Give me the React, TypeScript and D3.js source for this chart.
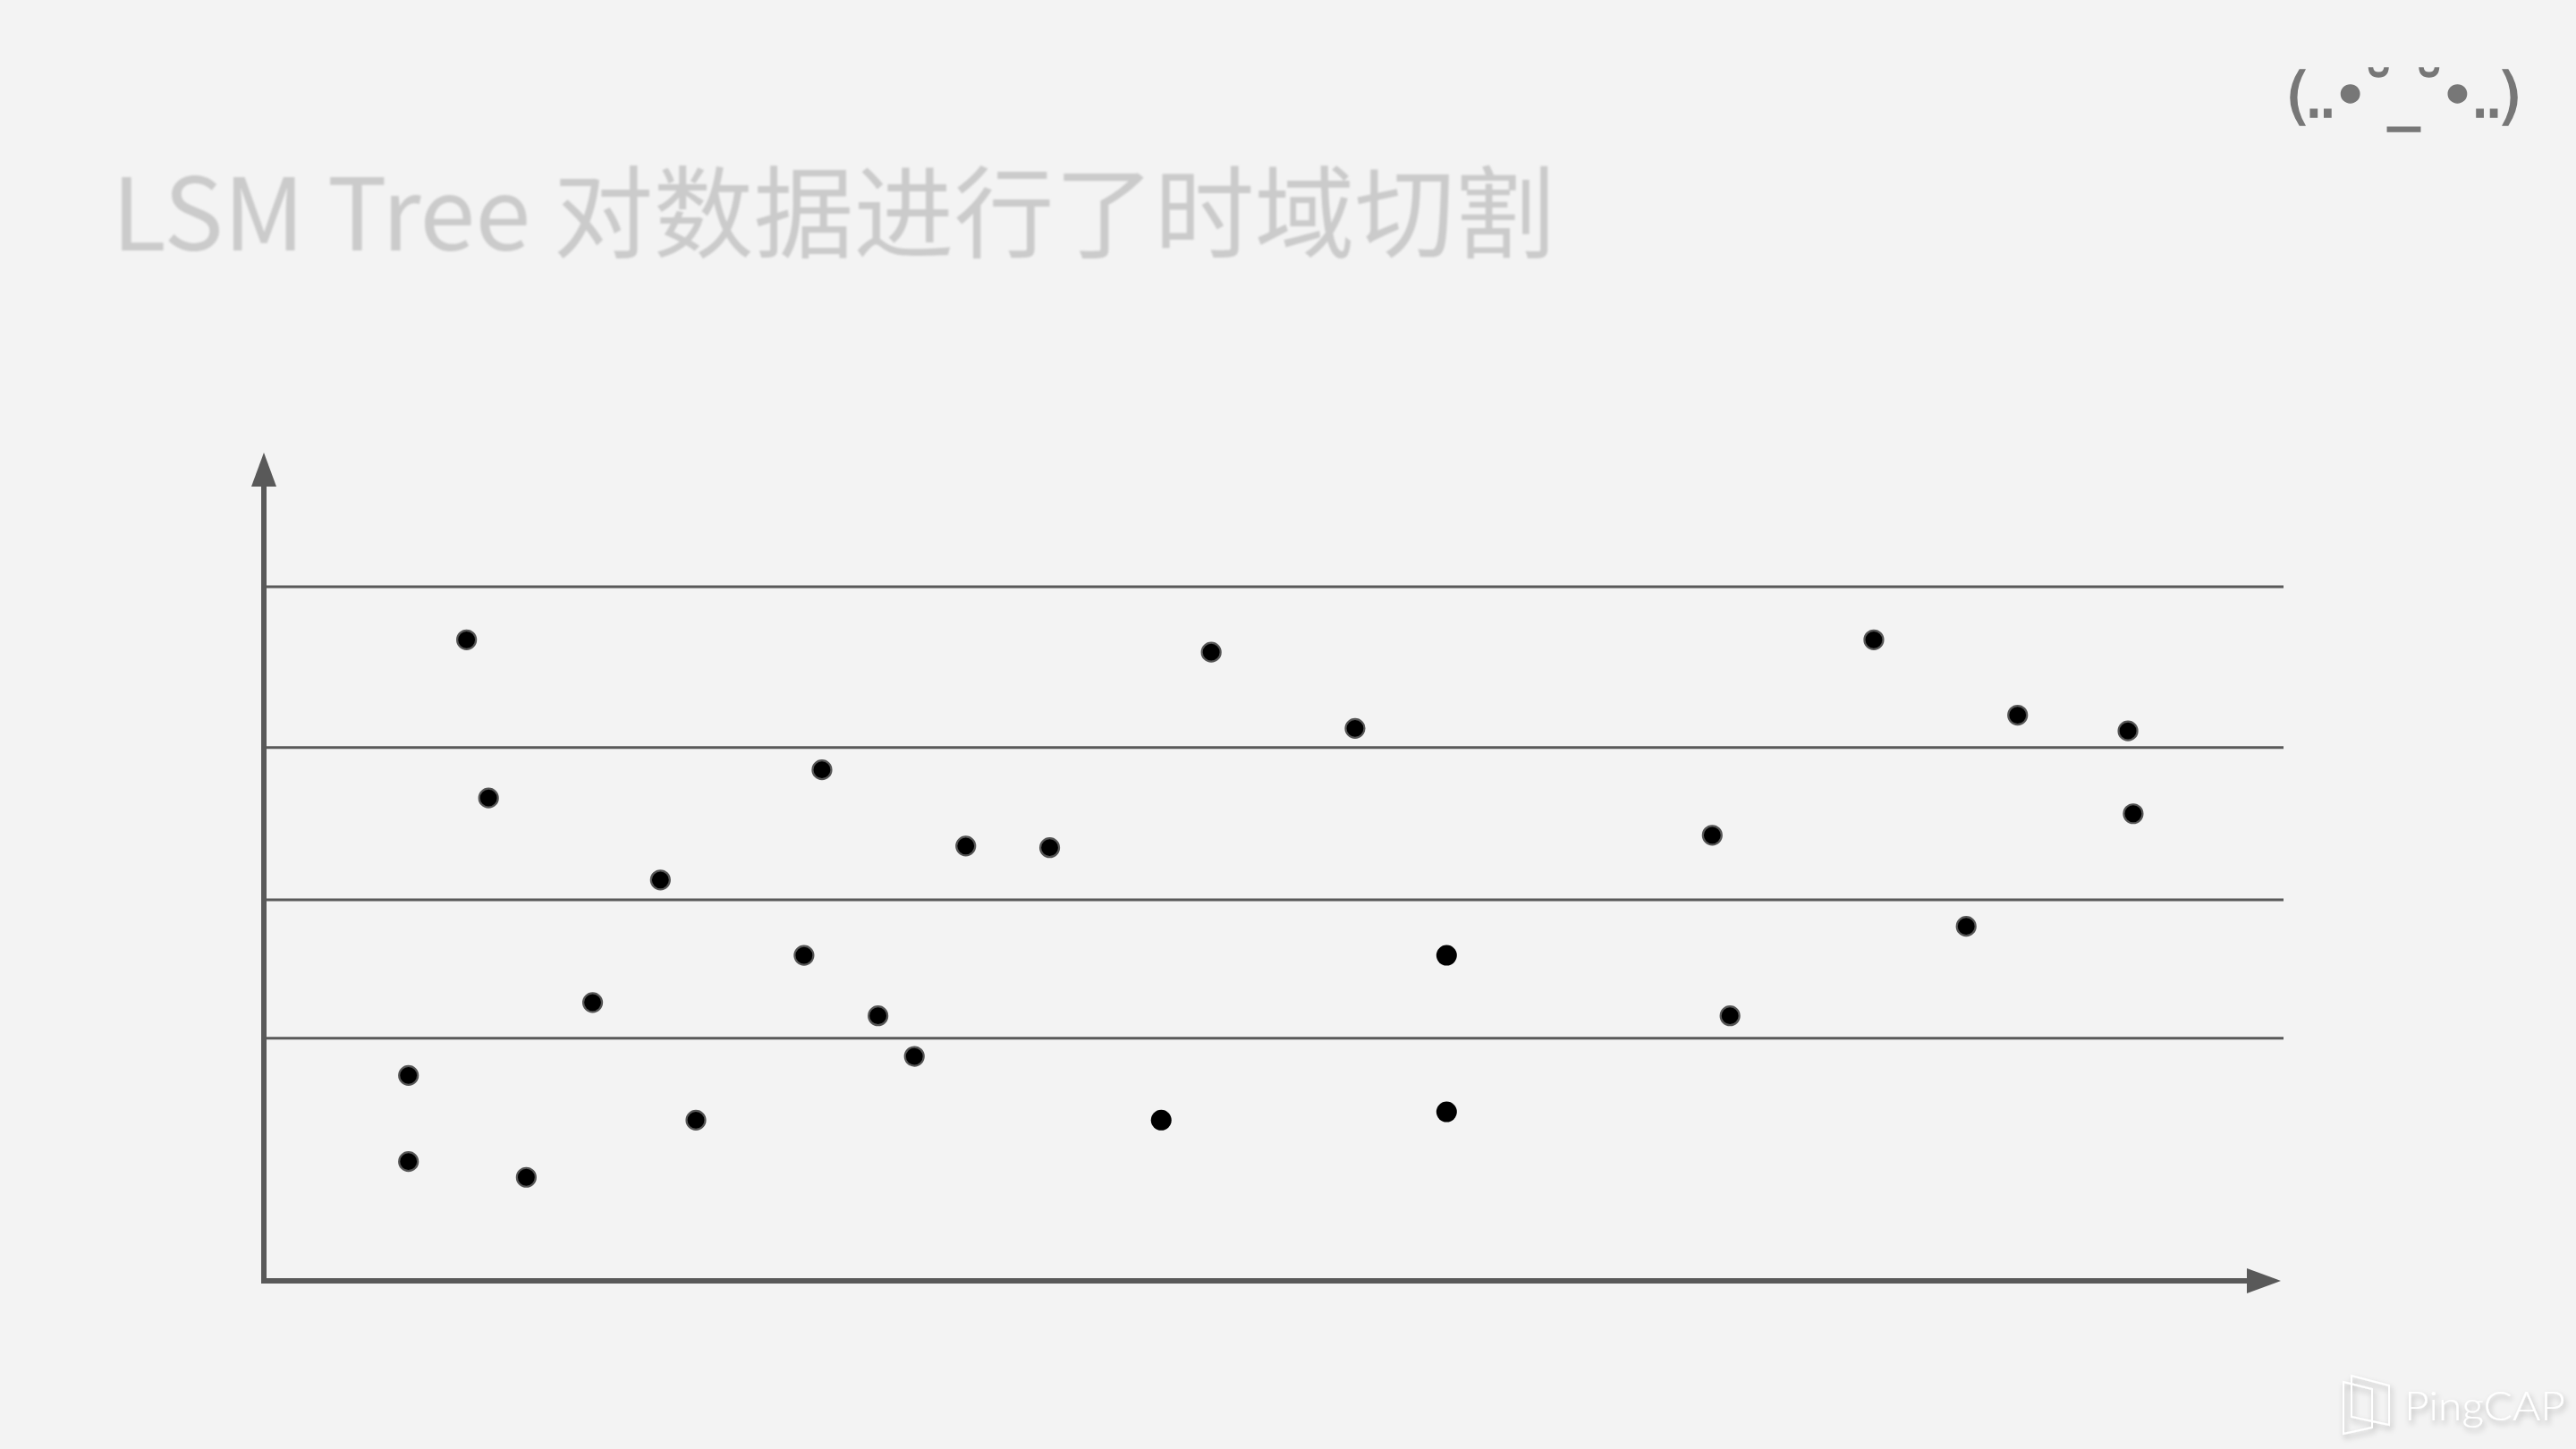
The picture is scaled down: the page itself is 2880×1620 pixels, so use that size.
import React from "react";
import * as d3 from "d3";

const W = 2880;
const H = 1620;

const titleText = "LSM Tree 对数据进行了时域切割";
const faceText = "(..•˘_˘•..)";
const brandText = "PingCAP";

// time-slice boundaries (value units 0..100 on the vertical axis)
const bandBounds = [29.3, 46.0, 64.4, 83.8];

// outlined points
const pointX = [10.05, 11.14, 19.66, 27.67, 26.78, 16.3, 30.45, 7.17, 21.42, 7.17, 13.01, 46.97, 54.1, 34.8, 38.96, 32.25, 79.82, 71.81, 72.69, 86.95, 92.42, 92.68, 84.4];
const pointY = [77.4, 58.3, 48.4, 61.7, 39.3, 33.6, 32.0, 24.8, 19.4, 14.4, 12.5, 75.9, 66.7, 52.5, 52.3, 27.1, 77.4, 53.8, 32.0, 68.3, 66.4, 56.4, 42.8];

// plain points (no outline)
const plainX = [44.49, 58.64, 58.64];
const plainY = [19.4, 39.3, 20.4];

export default function App() {
  const x = d3.scaleLinear().domain([0, 100]).range([295, 2550]);
  const y = d3.scaleLinear().domain([0, 100]).range([1432, 506]);

  const axisColor = "#595959";
  const yTip = y(100);
  const xTip = x(100);
  const arrowLen = 38;
  const arrowHalf = 14;

  const points = pointX.map((v, i) => ({ x: v, y: pointY[i] }));
  const plains = plainX.map((v, i) => ({ x: v, y: plainY[i] }));

  return (
    <svg
      width={W}
      height={H}
      viewBox={`0 0 ${W} ${H}`}
      style={{ position: "absolute", left: 0, top: 0, display: "block" }}
    >
      <defs>
        <filter id="shadow" x="-20%" y="-40%" width="140%" height="180%">
          <feDropShadow dx="2" dy="4" stdDeviation="3" floodColor="#000" floodOpacity="0.28" />
        </filter>
        <filter id="soft" x="-5%" y="-20%" width="110%" height="140%">
          <feGaussianBlur stdDeviation="1.2" />
        </filter>
      </defs>
      <rect x={0} y={0} width={W} height={H} fill="#f3f3f3" />

      {/* title */}
      <text
        x={125}
        y={280}
        fontFamily="'Noto Sans CJK SC', 'Noto Sans', sans-serif"
        fontSize={112}
        fill="#cbcbcb"
        filter="url(#soft)"
      >
        {titleText}
      </text>

      {/* emoticon */}
      <text
        x={2555}
        y={131}
        fontFamily="'DejaVu Sans', sans-serif"
        fontSize={70}
        fill="#777777"
        stroke="#777777"
        strokeWidth={1.5}
        textLength={265}
        lengthAdjust="spacing"
      >
        {faceText}
      </text>

      {/* band boundaries */}
      {bandBounds.map((b, i) => (
        <line
          key={i}
          x1={x(0)}
          x2={2553}
          y1={y(b)}
          y2={y(b)}
          stroke={axisColor}
          strokeWidth={3}
        />
      ))}

      {/* axes */}
      <line x1={x(0)} x2={x(0)} y1={y(0) + 3} y2={yTip + arrowLen} stroke={axisColor} strokeWidth={6} />
      <polygon
        points={`${x(0)},${yTip} ${x(0) - arrowHalf},${yTip + arrowLen} ${x(0) + arrowHalf},${yTip + arrowLen}`}
        fill={axisColor}
      />
      <line x1={x(0) - 3} x2={xTip - arrowLen} y1={y(0)} y2={y(0)} stroke={axisColor} strokeWidth={6} />
      <polygon
        points={`${xTip},${y(0)} ${xTip - arrowLen},${y(0) - arrowHalf} ${xTip - arrowLen},${y(0) + arrowHalf}`}
        fill={axisColor}
      />

      {/* points */}
      {points.map((p, i) => (
        <circle key={`p${i}`} cx={x(p.x)} cy={y(p.y)} r={10.5} fill="#000" stroke="#555" strokeWidth={2.2} />
      ))}
      {plains.map((p, i) => (
        <circle key={`q${i}`} cx={x(p.x)} cy={y(p.y)} r={11.5} fill="#000" />
      ))}

      {/* brand */}
      <g filter="url(#shadow)" fill="none" stroke="#ffffff" strokeWidth={2}>
        <path d="M2629,1538 L2671,1549 L2671,1593 L2629,1584 Z" />
        <path d="M2620,1545 L2652,1553 L2652,1596 L2620,1603 Z" />
      </g>
      <text
        x={2688}
        y={1588}
        fontFamily="Lato, 'Open Sans', sans-serif"
        fontWeight={300}
        fontSize={46}
        fill="#ffffff"
        filter="url(#shadow)"
        textLength={180}
        lengthAdjust="spacingAndGlyphs"
      >
        {brandText}
      </text>
    </svg>
  );
}
